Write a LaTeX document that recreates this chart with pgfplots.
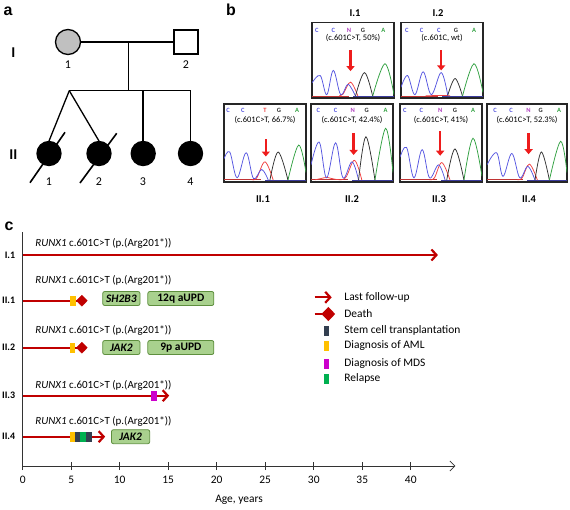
\documentclass[border=0pt]{standalone}
\usepackage{pgfplots}
\pgfplotsset{compat=1.18}
\usepackage{fontspec}
\setmainfont{Carlito}
\newfontfamily\arialb{Liberation Sans}
\usetikzlibrary{arrows.meta}
\definecolor{dred}{HTML}{C00000}
\definecolor{aml}{HTML}{FFC000}
\definecolor{sct}{HTML}{333F50}
\definecolor{mds}{HTML}{CC00CC}
\definecolor{rel}{HTML}{00B050}
\definecolor{gfill}{HTML}{A9D18E}
\definecolor{gdraw}{HTML}{5E8F3E}
\definecolor{tblue}{HTML}{5555E0}
\definecolor{tred}{HTML}{F04040}
\definecolor{tgreen}{HTML}{30A040}
\definecolor{tblack}{HTML}{303030}
\definecolor{arred}{HTML}{EE1C1C}
\definecolor{pgray}{HTML}{C0C0C0}
\definecolor{npurple}{HTML}{B040C0}
\newcommand\fs[1]{\fontsize{#1}{#1}\selectfont}

% chromatogram: #1 x, #2 y top, #3 w, #4 h, #5 blue, #6 red, #7 black, #8 green, #9 extras
\newcommand\chromo[9]{%
\begin{axis}[at={(#1bp,-#2bp)},anchor=north west,scale only axis,
  width=#3bp,height=#4bp,xmin=0,xmax=1,ymin=-0.025,ymax=1,
  xtick=\empty,ytick=\empty,axis line style={line width=1.1bp,black!85}]
\addplot[tred!80!black,line width=0.5bp] coordinates {(0,0.005)(0.45,0.005)};
\addplot[tblue!70!black,line width=0.5bp] coordinates {(0.5,0.0)(1,0.0)};
\addplot[tred,line width=0.75bp,smooth,tension=0.6] coordinates {#6};
\addplot[tblue,line width=0.75bp,smooth,tension=0.6] coordinates {#5};
\addplot[tblack,line width=0.75bp,smooth,tension=0.6] coordinates {#7};
\addplot[tgreen,line width=0.75bp,smooth,tension=0.6] coordinates {#8};
#9
\end{axis}}
\newcommand\bases[8]{%
 \node[font=\bfseries\fs{6.5},text=tblue] at (axis cs:#1,#8) {C};
 \node[font=\bfseries\fs{6.5},text=tblue] at (axis cs:#2,#8) {C};
 \node[font=\bfseries\fs{6.5},text=#7] at (axis cs:#3,#8) {#6};
 \node[font=\bfseries\fs{6.5},text=tblack] at (axis cs:#4,#8) {G};
 \node[font=\bfseries\fs{6.5},text=tgreen] at (axis cs:#5,#8) {A};}
\newcommand\marr[3]{\draw[arred,line width=2.4bp,-{Triangle[length=5bp,width=8bp]}] (axis cs:#1,#2) -- (axis cs:#1,#3);}
\newcommand\clab[2]{\node[font=\fs{8.5}] at (axis cs:0.5,#2) {#1};}

\begin{document}
\begin{tikzpicture}
\useasboundingbox (0,0) rectangle (570bp,-510bp);

% ---------- panel a: pedigree ----------
\begin{scope}[x=1bp,y=-1bp,line width=1.3bp]
 \node[font=\arialb\bfseries\fs{16}] at (8,11) {a};
 \node[font=\arialb\bfseries\fs{16}] at (231,10) {b};
 \node[font=\arialb\bfseries\fs{16}] at (9,226) {c};
 \draw (80.5,42) -- (174,42);
 \draw[fill=pgray] (68,42) circle (12.5bp);
 \draw (174,30) rectangle (198,54);
 \draw (128.3,42) -- (128.3,90.7);
 \draw (69.3,90.7) -- (190.7,90.7);
 \draw (69.3,90.7) -- (49,141);
 \draw (69.3,90.7) -- (99,141);
 \draw (143,90.7) -- (143,141);
 \draw (190.7,90.7) -- (190.7,141);
 \fill (49,153.5) circle (12.7bp);
 \fill (99,153.5) circle (12.7bp);
 \fill (143.2,153.5) circle (12.7bp);
 \fill (190.5,153.5) circle (12.7bp);
 \draw[line width=1.6bp] (30,182.7) -- (65,132.3);
 \draw[line width=1.6bp] (80,183) -- (116.7,133.3);
 \node[font=\bfseries\fs{15}] at (13.3,53) {I};
 \node[font=\bfseries\fs{15}] at (13.3,155) {II};
 \node[font=\fs{12}] at (68,65) {1};
 \node[font=\fs{12}] at (186,65) {2};
 \node[font=\fs{12}] at (49,181.7) {1};
 \node[font=\fs{12}] at (99,181.7) {2};
 \node[font=\fs{12}] at (143,181.7) {3};
 \node[font=\fs{12}] at (190.5,181.7) {4};
 % panel b labels
 \node[font=\bfseries\fs{10.5}] at (355,13) {I.1};
 \node[font=\bfseries\fs{10.5}] at (438,13) {I.2};
 \node[font=\bfseries\fs{10.5}] at (263,199) {II.1};
 \node[font=\bfseries\fs{10.5}] at (352,199) {II.2};
 \node[font=\bfseries\fs{10.5}] at (439,199) {II.3};
 \node[font=\bfseries\fs{10.5}] at (529,199) {II.4};
\end{scope}

% ---------- panel b: chromatograms ----------
\chromo{312}{22.5}{82}{75.5}
 {(0,0.18)(0.10,0.28)(0.18,0.02)(0.26,0.35)(0.35,0.02)(0.44,0.16)(0.53,0.0)}
 {(0.33,0.005)(0.38,0.03)(0.47,0.19)(0.56,0.0)}
 {(0.53,0.0)(0.64,0.32)(0.74,0.0)}
 {(0.74,0.0)(0.89,0.44)(1.0,0.02)}
 {\bases{0.06}{0.26}{0.45}{0.62}{0.87}{N}{npurple}{0.89}\clab{(c.601C>T, 50\%)}{0.79}\marr{0.47}{0.62}{0.34}}
\chromo{401}{22.5}{82}{75.5}
 {(0,0.12)(0.08,0.28)(0.17,0.02)(0.27,0.33)(0.37,0.02)(0.49,0.32)(0.57,0.01)}
 {(0.3,0.005)(0.5,0.01)(0.6,0.005)}
 {(0.57,0.01)(0.66,0.24)(0.75,0.0)}
 {(0.75,0.0)(0.89,0.44)(1.0,0.05)}
 {\bases{0.07}{0.25}{0.46}{0.67}{0.89}{C}{tblue}{0.89}\clab{(c.601C, wt)}{0.79}\marr{0.49}{0.62}{0.35}}
\chromo{224}{104}{82}{78}
 {(0,0.28)(0.07,0.37)(0.16,0.03)(0.27,0.36)(0.36,0.02)(0.46,0.14)(0.54,0.0)}
 {(0.34,0.005)(0.40,0.03)(0.50,0.24)(0.60,0.0)}
 {(0.56,0.0)(0.66,0.37)(0.78,0.0)}
 {(0.78,0.0)(0.91,0.46)(1.0,0.1)}
 {\bases{0.05}{0.23}{0.50}{0.67}{0.89}{T}{tred}{0.915}\clab{(c.601C>T, 66.7\%)}{0.79}\marr{0.51}{0.54}{0.31}}
\chromo{311}{104}{82}{78}
 {(0,0.2)(0.10,0.5)(0.19,0.03)(0.30,0.49)(0.39,0.03)(0.50,0.24)(0.58,0.0)}
 {(0.05,0.005)(0.12,0.02)(0.2,0.035)(0.3,0.01)(0.42,0.03)(0.53,0.26)(0.62,0.0)}
 {(0.58,0.0)(0.67,0.57)(0.78,0.0)}
 {(0.78,0.0)(0.91,0.68)(1.0,0.1)}
 {\bases{0.09}{0.30}{0.51}{0.68}{0.91}{N}{npurple}{0.915}\clab{(c.601C>T, 42.4\%)}{0.79}\marr{0.52}{0.62}{0.33}}
\chromo{400}{104}{82}{78}
 {(0,0.3)(0.08,0.43)(0.17,0.03)(0.27,0.40)(0.36,0.03)(0.47,0.20)(0.55,0.0)}
 {(0.36,0.005)(0.42,0.03)(0.51,0.23)(0.61,0.0)}
 {(0.57,0.0)(0.67,0.41)(0.78,0.0)}
 {(0.78,0.0)(0.89,0.55)(1.0,0.05)}
 {\bases{0.06}{0.26}{0.49}{0.67}{0.89}{N}{npurple}{0.915}\clab{(c.601C>T, 41\%)}{0.79}\marr{0.49}{0.64}{0.32}}
\chromo{487}{104}{80}{78}
 {(0,0.2)(0.12,0.36)(0.20,0.05)(0.31,0.35)(0.41,0.03)(0.51,0.18)(0.60,0.0)}
 {(0.38,0.005)(0.44,0.03)(0.53,0.21)(0.63,0.0)}
 {(0.6,0.0)(0.68,0.37)(0.78,0.0)}
 {(0.78,0.0)(0.92,0.51)(1.0,0.1)}
 {\bases{0.10}{0.30}{0.52}{0.67}{0.90}{N}{npurple}{0.915}\clab{(c.601C>T, 52.3\%)}{0.79}\marr{0.52}{0.62}{0.34}}

% ---------- panel c: timeline ----------
\begin{axis}[at={(22.7bp,-466bp)},anchor=south west,scale only axis,
  width=432.7bp,height=234bp,xmin=0,xmax=44.6,ymin=-466,ymax=-232,
  axis x line=bottom,axis y line=left,
  x axis line style={-{Straight Barb[length=5bp,width=10bp]},line width=0.8bp,black!80},
  y axis line style={-,line width=0.8bp,black!80},
  xtick={0,5,...,40},tick align=center,major tick length=8bp,
  xtick style={line width=0.8bp,black!80},
  ytick={-255,-300.7,-347.7,-395.7,-436.7},
  yticklabels={I.1,II.1,II.2,II.3,II.4},
  ytick style={draw=none},
  yticklabel style={font=\bfseries\fs{10}},
  xticklabel style={font=\fs{11.5},yshift=-3bp},
  /pgf/number format/assume math mode=true,
  xlabel={Age, years},xlabel style={font=\fs{11.5},yshift=-4bp},
  clip=false]
% lines
\addplot[dred,line width=2.2bp,-{Straight Barb[length=5bp,width=11bp]}] coordinates {(0,-255)(42.8,-255)};
\addplot[dred,line width=2.2bp] coordinates {(0,-300.7)(6.1,-300.7)};
\addplot[dred,line width=2.2bp] coordinates {(0,-347.7)(6.1,-347.7)};
\addplot[dred,line width=2.2bp,-{Straight Barb[length=5bp,width=11bp]}] coordinates {(0,-395.7)(15.1,-395.7)};
\addplot[dred,line width=2.2bp,-{Straight Barb[length=5bp,width=11bp]}] coordinates {(0,-436.7)(8.5,-436.7)};
% death
\addplot[only marks,mark=diamond*,mark size=5.5bp,mark options={xscale=1.3,fill=dred,draw=dred}] coordinates {(6.1,-300.7)(6.1,-347.7)};
% AML
\addplot[only marks,mark=square*,mark size=4.4bp,mark options={xscale=0.5,fill=aml,draw=aml}] coordinates {(5.15,-300.7)(5.1,-347.7)(5.1,-436.7)};
% MDS
\addplot[only marks,mark=square*,mark size=4.4bp,mark options={xscale=0.5,fill=mds,draw=mds}] coordinates {(13.5,-395.7)};
% SCT
\addplot[only marks,mark=square*,mark size=4.4bp,mark options={xscale=0.5,fill=sct,draw=sct}] coordinates {(5.6,-436.7)(6.8,-436.7)};
% relapse
\addplot[only marks,mark=square*,mark size=4.4bp,mark options={xscale=0.5,fill=rel,draw=rel}] coordinates {(6.2,-436.7)};
% mutation labels
\node[anchor=west,font=\fs{11}] at (axis cs:0.95,-243.5) {\textit{RUNX1} c.601C>T (p.(Arg201*))};
\node[anchor=west,font=\fs{11}] at (axis cs:0.95,-280) {\textit{RUNX1} c.601C>T (p.(Arg201*))};
\node[anchor=west,font=\fs{11}] at (axis cs:0.95,-330.7) {\textit{RUNX1} c.601C>T (p.(Arg201*))};
\node[anchor=west,font=\fs{11}] at (axis cs:0.95,-385) {\textit{RUNX1} c.601C>T (p.(Arg201*))};
\node[anchor=west,font=\fs{11}] at (axis cs:0.95,-421) {\textit{RUNX1} c.601C>T (p.(Arg201*))};
% green boxes
\tikzset{gbox/.style={draw=gdraw,fill=gfill,rounded corners=2bp,line width=0.8bp,inner sep=0pt,minimum height=14bp,font=\bfseries\fs{11.5}}}
\node[gbox,minimum width=37.3bp,font=\bfseries\itshape\fs{11.5}] at (axis cs:10.17,-298.5) {SH2B3};
\node[gbox,minimum width=66bp] at (axis cs:16.3,-298.5) {12q aUPD};
\node[gbox,minimum width=37.3bp,font=\bfseries\itshape\fs{11.5}] at (axis cs:10.17,-347.5) {JAK2};
\node[gbox,minimum width=66bp] at (axis cs:16.3,-347.5) {9p aUPD};
\node[gbox,minimum width=38.3bp,font=\bfseries\itshape\fs{11.5}] at (axis cs:11.12,-436.7) {JAK2};
% legend
\addplot[dred,line width=2.2bp,-{Straight Barb[length=5bp,width=11bp]}] coordinates {(30.1,-297.3)(31.85,-297.3)};
\addplot[dred,line width=2.2bp,mark=diamond*,mark indices={2},mark size=5.5bp,mark options={xscale=1.3,fill=dred,draw=dred}] coordinates {(30.1,-314)(31.5,-314)};
\addplot[only marks,mark=square*,mark size=4.4bp,mark options={xscale=0.5,fill=sct,draw=sct}] coordinates {(31.3,-330.7)};
\addplot[only marks,mark=square*,mark size=4.4bp,mark options={xscale=0.5,fill=aml,draw=aml}] coordinates {(31.3,-346)};
\addplot[only marks,mark=square*,mark size=4.4bp,mark options={xscale=0.5,fill=mds,draw=mds}] coordinates {(31.3,-363.3)};
\addplot[only marks,mark=square*,mark size=4.4bp,mark options={xscale=0.5,fill=rel,draw=rel}] coordinates {(31.3,-378.3)};
\node[anchor=west,font=\fs{11.5}] at (axis cs:32.8,-297.3) {Last follow-up};
\node[anchor=west,font=\fs{11.5}] at (axis cs:32.8,-314) {Death};
\node[anchor=west,font=\fs{11.5}] at (axis cs:32.8,-330.7) {Stem cell transplantation};
\node[anchor=west,font=\fs{11.5}] at (axis cs:32.8,-346) {Diagnosis of AML};
\node[anchor=west,font=\fs{11.5}] at (axis cs:32.8,-363.3) {Diagnosis of MDS};
\node[anchor=west,font=\fs{11.5}] at (axis cs:32.8,-378.3) {Relapse};
\end{axis}
\end{tikzpicture}
\end{document}
